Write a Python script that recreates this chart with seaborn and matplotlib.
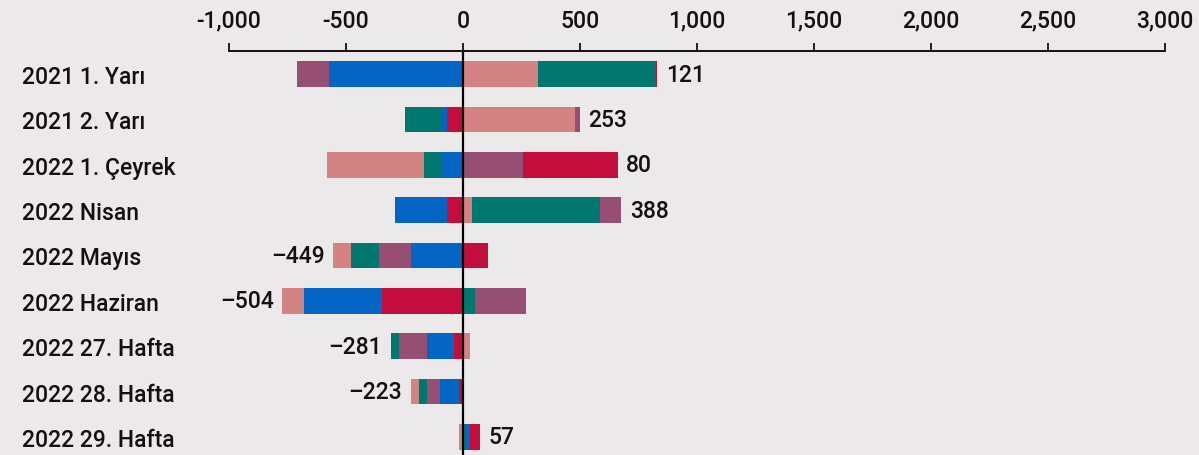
import numpy as np
import pandas as pd
import matplotlib
matplotlib.use("Agg")
import matplotlib.pyplot as plt
import seaborn as sns

categories = ["2021 1. Yarı", "2021 2. Yarı", "2022 1. Çeyrek", "2022 Nisan",
              "2022 Mayıs", "2022 Haziran", "2022 27. Hafta", "2022 28. Hafta",
              "2022 29. Hafta"]
salmon = [322, 478, -416, 38, -77, -94, 28, -34, -17]
teal = [503, -150, -73, 546, -120, 51, -37, -36, 11]
purple = [-137, 21, 256, 93, -135, 217, -117, -56, 0]
blue = [-573, -28, -93, -221, -222, -330, -117, -78, 19]
crimson = [6, -68, 406, -68, 105, -348, -38, -19, 44]
totals = [121, 253, 80, 388, -449, -504, -281, -223, 57]
xticks = [-1000, -500, 0, 500, 1000, 1500, 2000, 2500, 3000]

colors = {"salmon": "#d48383", "teal": "#00776f", "purple": "#964f72",
          "blue": "#0565c4", "crimson": "#c30d3d"}
series = {"salmon": salmon, "teal": teal, "purple": purple,
          "blue": blue, "crimson": crimson}

sns.set_theme(style="white")
plt.rcParams["font.family"] = ["Roboto", "DejaVu Sans"]
FS = 16.5
FW = "medium"
bg = "#ebe9e9"
fig = plt.figure(figsize=(11.99, 4.56), dpi=100, facecolor=bg)
ax = fig.add_axes([229 / 1199, 0.0, (1165 - 229) / 1199, 1 - 52 / 456])
ax.set_facecolor(bg)

pos_order = ["salmon", "teal", "purple", "blue", "crimson"]
neg_order = ["crimson", "blue", "purple", "teal", "salmon"]

width = 0.57
pos_cum = {}
acc = np.zeros(len(categories))
for name in pos_order:
    acc = acc + np.clip(np.array(series[name], float), 0, None)
    pos_cum[name] = acc.copy()
for name in reversed(pos_order):
    df = pd.DataFrame({"cat": categories, "val": pos_cum[name]})
    sns.barplot(data=df, x="val", y="cat", orient="h", color=colors[name],
                saturation=1, width=width, ax=ax, linewidth=0)

neg_cum = {}
acc = np.zeros(len(categories))
for name in neg_order:
    acc = acc + np.clip(np.array(series[name], float), None, 0)
    neg_cum[name] = acc.copy()
for name in reversed(neg_order):
    df = pd.DataFrame({"cat": categories, "val": neg_cum[name]})
    sns.barplot(data=df, x="val", y="cat", orient="h", color=colors[name],
                saturation=1, width=width, ax=ax, linewidth=0)

pos_end = pos_cum[pos_order[-1]]
neg_end = neg_cum[neg_order[-1]]
for i, t in enumerate(totals):
    if t >= 0:
        ax.annotate(f"{t}", (pos_end[i], i), xytext=(6, 0), textcoords="offset points",
                    ha="left", va="center", fontsize=FS, fontweight=FW, color="#111111")
    else:
        ax.annotate(f"–{abs(t)}", (neg_end[i], i), xytext=(-6, 0), textcoords="offset points",
                    ha="right", va="center", fontsize=FS, fontweight=FW, color="#111111")

ax.axvline(0, color="black", lw=1.6, zorder=5)
ax.set_xlim(-1000, 3000)
ax.set_ylim(8.4, -0.51)
ax.xaxis.tick_top()
ax.set_xticks(xticks)
ax.set_xticklabels([f"{v:,}" for v in xticks])
ax.tick_params(axis="x", direction="out", length=6, width=1.2, color="black",
               pad=8, labelsize=FS, labelcolor="#111111")
for lab in ax.get_xticklabels():
    lab.set_fontweight(FW)
ax.tick_params(axis="y", length=0, pad=149, labelsize=FS, labelcolor="#111111")
for lab in ax.get_yticklabels():
    lab.set_horizontalalignment("left")
    lab.set_fontweight(FW)
ax.set_xlabel("")
ax.set_ylabel("")
for s in ["left", "right", "bottom"]:
    ax.spines[s].set_visible(False)
ax.spines["top"].set_color("black")
ax.spines["top"].set_linewidth(1.3)

fig.savefig("out.png", dpi=100, facecolor=bg)
